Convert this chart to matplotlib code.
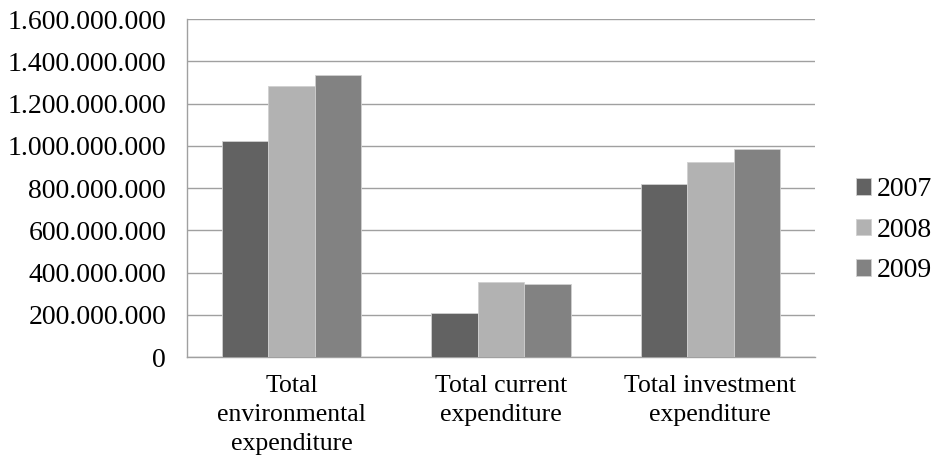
import numpy as np
import matplotlib.pyplot as plt

categories = ['Total\nenvironmental\nexpenditure', 'Total current\nexpenditure',
              'Total investment\nexpenditure']
years = ['2007', '2008', '2009']
v2007 = [1024000000, 210000000, 818000000]
v2008 = [1281000000, 355000000, 921000000]
v2009 = [1335000000, 348000000, 987000000]
colors = ['#626262', '#b2b2b2', '#828282']

plt.rcParams['font.family'] = ['Liberation Serif', 'DejaVu Serif']

fig = plt.figure(figsize=(9.33, 4.67), dpi=100)
ax = fig.add_axes([0.2004, 0.2355, 0.6731, 0.7238])

x = np.arange(len(categories))
w = 0.222
for i, (vals, yr) in enumerate(zip([v2007, v2008, v2009], years)):
    ax.bar(x + (i - 1) * w, vals, w, color=colors[i], label=yr,
           edgecolor='#d0d0d0', linewidth=0.6, zorder=3)

ax.set_xlim(-0.5, 2.5)
ax.set_ylim(0, 1600000000)
ax.set_yticks(np.arange(0, 1600000001, 200000000))
ax.set_yticklabels(['{:,}'.format(int(v)).replace(',', '.') for v in ax.get_yticks()],
                   fontsize=20)
ax.set_xticks(x)
ax.set_xticklabels(categories, fontsize=18.5, linespacing=1.42)
ax.tick_params(axis='both', length=0)
ax.tick_params(axis='y', pad=15)
ax.tick_params(axis='x', pad=13)

ax.grid(axis='y', color='#a0a0a0', linewidth=1.0, zorder=0)
for s in ['top', 'right']:
    ax.spines[s].set_visible(False)
for s in ['left', 'bottom']:
    ax.spines[s].set_color('#a0a0a0')
    ax.spines[s].set_linewidth(1.0)

ax.legend(loc='center left', bbox_to_anchor=(1.025, 0.375), frameon=False,
          fontsize=20, handlelength=0.55, handleheight=0.55, handletextpad=0.2,
          labelspacing=0.56)

fig.savefig('out.png', dpi=100)
